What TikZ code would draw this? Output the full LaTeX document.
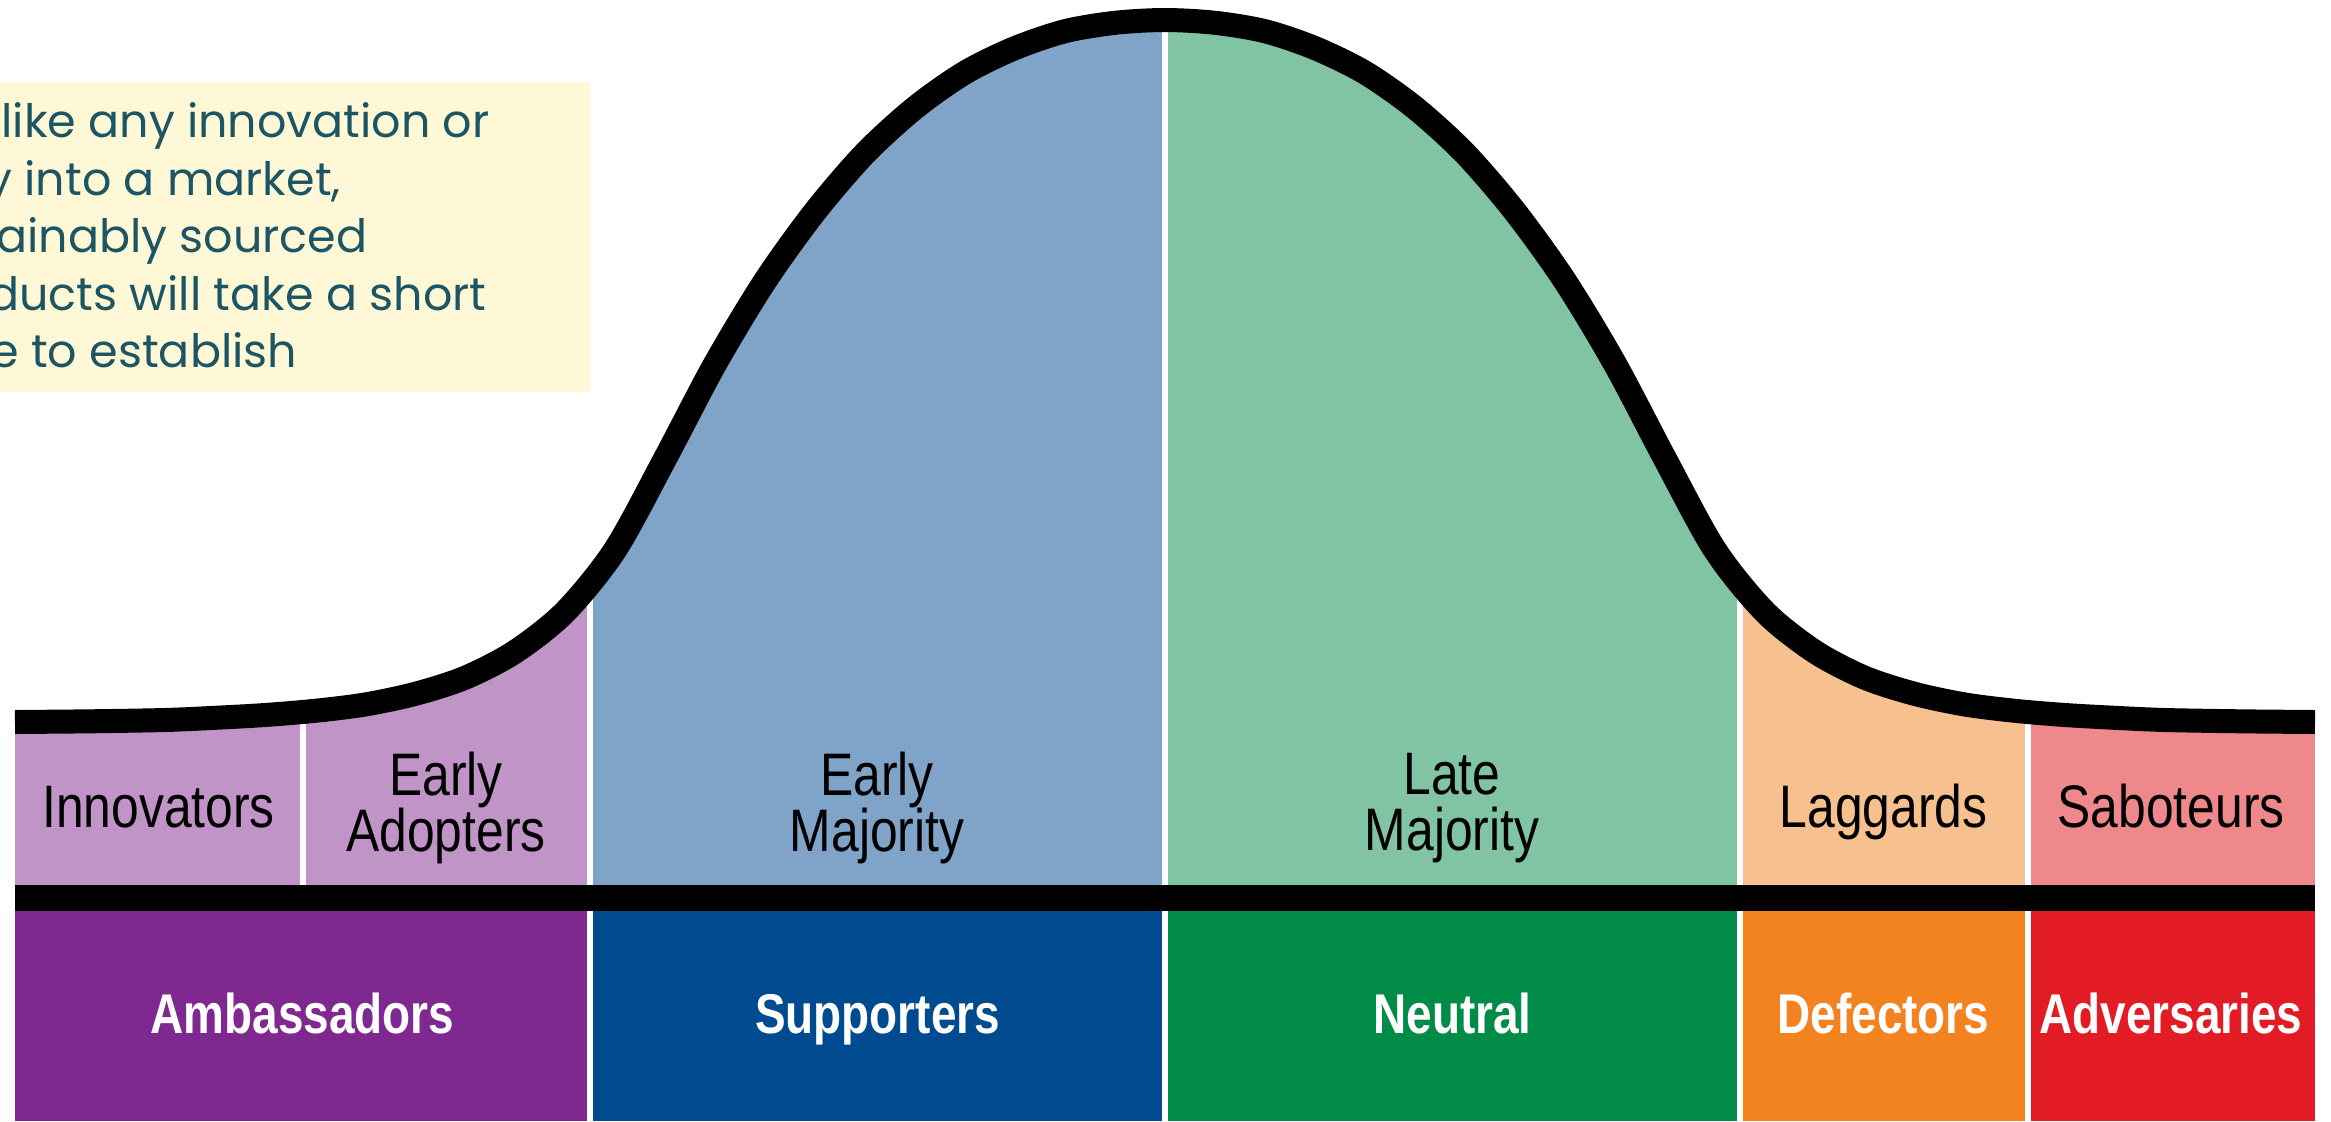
\documentclass[tikz,border=0pt]{standalone}
\usepackage{fontspec}
\setmainfont{Liberation Sans}
\newfontfamily\condfont[FakeStretch=0.83]{Liberation Sans}
\newfontfamily\boldcondfont[FakeStretch=0.82]{Liberation Sans}
\newfontfamily\notefont{Poppins}
\definecolor{cInnov}{HTML}{C194C7}
\definecolor{cEMaj}{HTML}{80A3C8}
\definecolor{cLMaj}{HTML}{81C4A4}
\definecolor{cLag}{HTML}{F7C08F}
\definecolor{cSab}{HTML}{EE888B}
\definecolor{cAmb}{HTML}{7F288F}
\definecolor{cSupp}{HTML}{004B8F}
\definecolor{cNeu}{HTML}{008B47}
\definecolor{cDef}{HTML}{F38220}
\definecolor{cAdv}{HTML}{E21B24}
\definecolor{cNote}{HTML}{FFF8D7}
\definecolor{cNoteText}{HTML}{1C5563}
\tikzset{
  upperlabel/.style={font=\condfont\fontsize{30}{28}\selectfont, align=center, inner sep=0pt, text=black},
  lowerlabel/.style={font=\boldcondfont\bfseries\fontsize{28}{30}\selectfont, inner sep=0pt, text=white, anchor=base},
  noteline/.style={font=\notefont\fontsize{23}{28}\selectfont, inner sep=0pt, text=cNoteText, anchor=base west},
  divider/.style={white, line width=3pt},
  bellline/.style={black, line width=12pt, line join=round, line cap=butt}
}
\begin{document}
\begin{tikzpicture}[x=0.5pt,y=-0.5pt]
\useasboundingbox (0,0) rectangle (2331,1121);
\fill[white] (0,0) rectangle (2331,1121);
% upper coloured bands
\fill[cInnov] (15,0) rectangle (590,885);
\fill[cEMaj] (590,0) rectangle (1165,885);
\fill[cLMaj] (1165,0) rectangle (1740,885);
\fill[cLag] (1740,0) rectangle (2027.5,885);
\fill[cSab] (2027.5,0) rectangle (2315,885);
\foreach \xx in {302.5,590,1165,1740,2027.5} \draw[divider] (\xx,0) -- (\xx,885);
% white mask above the bell curve
\fill[white] plot[smooth,tension=0.5] coordinates {
 (15,722) (90,721.3) (165,720) (215,717.8) (265,715) (315,710.8) (365,704.5) (415,693.9) (465,677.8) (515,651.8) (565,612) (615,550) (665,458.8) (715,364) (765,281.1) (815,211.6) (865,153.4) (915,107.8) (965,72.6) (1015,48.1) (1065,31.2) (1115,22.8) (1165,20)
 (1215,22.8) (1265,31.2) (1315,48.1) (1365,72.6) (1415,107.8) (1465,153.4) (1515,211.6) (1565,281.1) (1615,364) (1665,458.8) (1715,550) (1765,612) (1815,651.8) (1865,677.8) (1915,693.9) (1965,704.5) (2015,710.8) (2065,715) (2115,717.8) (2165,720) (2240,721.3) (2315,722)}
 -- (2331,722) -- (2331,0) -- (0,0) -- (0,722) -- cycle;
% bell curve
\draw[bellline] plot[smooth,tension=0.5] coordinates {
 (15,722) (90,721.3) (165,720) (215,717.8) (265,715) (315,710.8) (365,704.5) (415,693.9) (465,677.8) (515,651.8) (565,612) (615,550) (665,458.8) (715,364) (765,281.1) (815,211.6) (865,153.4) (915,107.8) (965,72.6) (1015,48.1) (1065,31.2) (1115,22.8) (1165,20)
 (1215,22.8) (1265,31.2) (1315,48.1) (1365,72.6) (1415,107.8) (1465,153.4) (1515,211.6) (1565,281.1) (1615,364) (1665,458.8) (1715,550) (1765,612) (1815,651.8) (1865,677.8) (1915,693.9) (1965,704.5) (2015,710.8) (2065,715) (2115,717.8) (2165,720) (2240,721.3) (2315,722)};
% black bar
\fill[black] (15,885) rectangle (2315,911);
% lower boxes
\fill[cAmb] (15,911) rectangle (590,1121);
\fill[cSupp] (590,911) rectangle (1165,1121);
\fill[cNeu] (1165,911) rectangle (1740,1121);
\fill[cDef] (1740,911) rectangle (2027.5,1121);
\fill[cAdv] (2027.5,911) rectangle (2315,1121);
\foreach \xx in {590,1165,1740,2027.5} \draw[divider] (\xx,911) -- (\xx,1121);
% upper labels
\node[upperlabel, anchor=base] (innov) at (158.5,827) {Innovators};
\node[upperlabel, anchor=center] (eadopt) at (446,808) {Early\\Adopters};
\node[upperlabel, anchor=center] (emaj) at (877,808) {Early\\Majority};
\node[upperlabel, anchor=center] (lmaj) at (1452,808) {Late\\Majority};
\node[upperlabel, anchor=base] (lag) at (1883.5,827) {Laggards};
\node[upperlabel, anchor=base] (sab) at (2171,827) {Saboteurs};
% lower labels
\node[lowerlabel] (amb) at (302.5,1033) {Ambassadors};
\node[lowerlabel] (supp) at (877.5,1033) {Supporters};
\node[lowerlabel] (neu) at (1452.5,1033) {Neutral};
\node[lowerlabel] (defc) at (1883.5,1033) {Defectors};
\node[lowerlabel] (adv) at (2171,1033) {Adversaries};
% note box
\fill[cNote] (0,82) rectangle (590,392);
\node[noteline] (nl1) at (1,137) {like any innovation or};
\node[noteline] (nl2) at (-14,195) {y into a market,};
\node[noteline] (nl3) at (-4,252) {ainably sourced};
\node[noteline] (nl4) at (-12,310) {ducts will take a short};
\node[noteline] (nl5) at (-10,367) {e to establish};
\end{tikzpicture}
\end{document}
